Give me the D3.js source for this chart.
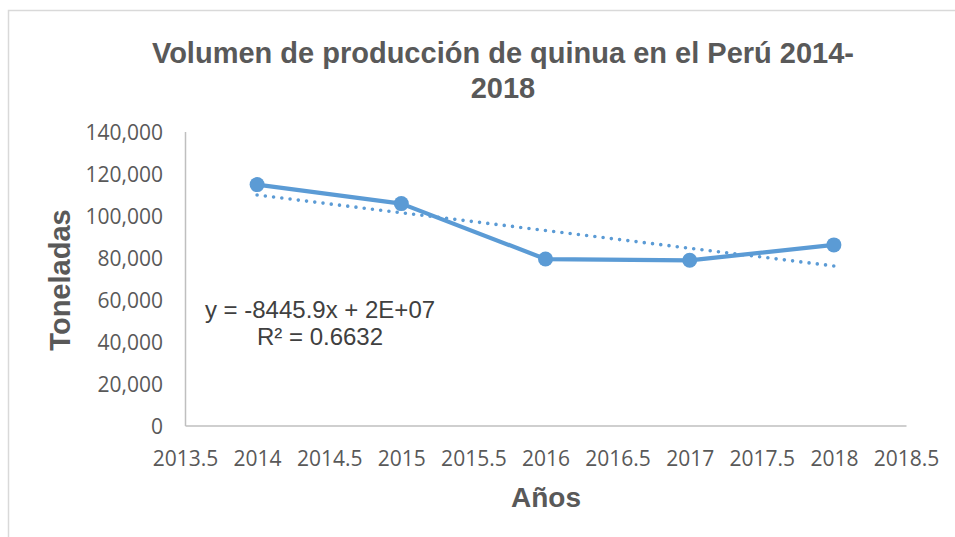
<!DOCTYPE html>
<head>
  <meta charset="utf-8">
  <script src="https://d3js.org/d3.v7.min.js"></script>
  <style>
    body { margin:0; background:#fff; }
    .tick text { font: 21px "Open Sans", sans-serif; fill:#595959; }
    .axis path { stroke:#bfbfbf; stroke-width:1.5px; }
    .title, .axtitle { font-family:"Liberation Sans", Arial, sans-serif; font-weight:bold; fill:#595959; }
    .eq { font: 24px "Liberation Sans", Arial, sans-serif; fill:#404040; }
  </style>
</head>
<body>
  <svg id="chart"></svg>
  <script>
  var years = [2014, 2015, 2016, 2017, 2018];
  var produccion = [114725, 105666, 79269, 78657, 86011];
  var xTicks = [2013.5, 2014, 2014.5, 2015, 2015.5, 2016, 2016.5, 2017, 2017.5, 2018, 2018.5];
  var yTicks = [0, 20000, 40000, 60000, 80000, 100000, 120000, 140000];
  var titleLines = ["Volumen de producción de quinua en el Perú 2014-", "2018"];
  var eqLines = ["y = -8445.9x + 2E+07", "R² = 0.6632"];

  var width = 955, height = 537;
  var svg = d3.select("#chart").attr("width", width).attr("height", height);

  // chart frame
  svg.append("rect")
    .attr("x", 8.5).attr("y", 10.5)
    .attr("width", 1000).attr("height", 600)
    .attr("fill", "none").attr("stroke", "#d9d9d9").attr("stroke-width", 1.5);

  var xScale = d3.scaleLinear().domain([2013.5, 2018.5]).range([185, 906]);
  var yScale = d3.scaleLinear().domain([0, 140000]).range([425.5, 131.5]);

  // axes
  svg.append("g")
    .attr("class", "axis")
    .attr("transform", "translate(0," + yScale(0) + ")")
    .call(d3.axisBottom(xScale).tickValues(xTicks).tickSize(0).tickPadding(0).tickFormat(d3.format("")))
    .call(function(g) { g.selectAll(".tick text").attr("dy", null).attr("y", 40); });

  svg.append("g")
    .attr("class", "axis")
    .attr("transform", "translate(" + xScale(2013.5) + ",0)")
    .call(d3.axisLeft(yScale).tickValues(yTicks).tickSize(0).tickPadding(22).tickFormat(d3.format(",")))
    .call(function(g) { g.selectAll(".tick text").attr("dy", "0.36em"); });

  // trendline (least squares)
  var n = years.length;
  var mx = d3.mean(years), my = d3.mean(produccion);
  var slope = d3.sum(years, function(d, i) { return (d - mx) * (produccion[i] - my); }) /
              d3.sum(years, function(d) { return (d - mx) * (d - mx); });
  var icpt = my - slope * mx;
  var trendX = [years[0], years[n - 1]];

  svg.append("path")
    .attr("d", d3.line().x(function(d) { return xScale(d); })
                        .y(function(d) { return yScale(icpt + slope * d); })(trendX))
    .attr("fill", "none")
    .attr("stroke", "#5b9bd5")
    .attr("stroke-width", 3.6)
    .attr("stroke-linecap", "round")
    .attr("stroke-dasharray", "0,8.3");

  // series line
  var line = d3.line()
    .x(function(d, i) { return xScale(years[i]); })
    .y(function(d) { return yScale(d); });

  svg.append("path")
    .attr("d", line(produccion))
    .attr("fill", "none")
    .attr("stroke", "#5b9bd5")
    .attr("stroke-width", 4.2)
    .attr("stroke-linejoin", "round");

  svg.selectAll(".pt")
    .data(produccion)
    .enter().append("circle")
    .attr("class", "pt")
    .attr("cx", function(d, i) { return xScale(years[i]); })
    .attr("cy", function(d) { return yScale(d); })
    .attr("r", 7.5)
    .attr("fill", "#5b9bd5");

  // title
  svg.append("text")
    .attr("class", "title")
    .attr("text-anchor", "middle")
    .style("font-size", "29px")
    .selectAll("tspan")
    .data(titleLines)
    .enter().append("tspan")
    .attr("x", 503)
    .attr("y", function(d, i) { return 63 + i * 35; })
    .text(function(d) { return d; });

  // axis titles
  svg.append("text")
    .attr("class", "axtitle")
    .attr("text-anchor", "middle")
    .style("font-size", "28px")
    .attr("x", 546).attr("y", 507)
    .text("Años");

  svg.append("text")
    .attr("class", "axtitle")
    .attr("text-anchor", "middle")
    .style("font-size", "29px")
    .attr("transform", "translate(70,280) rotate(-90)")
    .text("Toneladas");

  // trend equation
  svg.append("text")
    .attr("class", "eq")
    .attr("text-anchor", "middle")
    .selectAll("tspan")
    .data(eqLines)
    .enter().append("tspan")
    .attr("x", 320)
    .attr("y", function(d, i) { return 318 + i * 27; })
    .text(function(d) { return d; });
  </script>
</body>
